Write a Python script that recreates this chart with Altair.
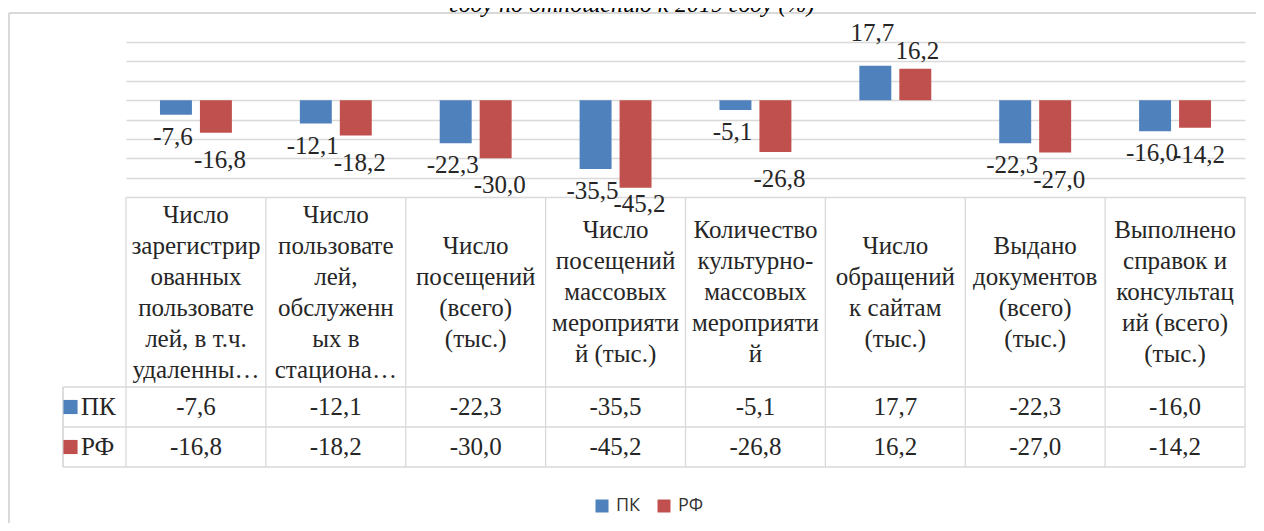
import altair as alt
import pandas as pd

# ---------------- data ----------------
categories = [
    "Число\nзарегистрир\nованных\nпользовате\nлей, в т.ч.\nудаленны…",
    "Число\nпользовате\nлей,\nобслуженн\nых в\nстациона…",
    "Число\nпосещений\n(всего)\n(тыс.)",
    "Число\nпосещений\nмассовых\nмероприяти\nй (тыс.)",
    "Количество\nкультурно-\nмассовых\nмероприяти\nй",
    "Число\nобращений\nк сайтам\n(тыс.)",
    "Выдано\nдокументов\n(всего)\n(тыс.)",
    "Выполнено\nсправок и\nконсультац\nий (всего)\n(тыс.)",
]
series = ["ПК", "РФ"]
pk_values = [-7.6, -12.1, -22.3, -35.5, -5.1, 17.7, -22.3, -16.0]
rf_values = [-16.8, -18.2, -30.0, -45.2, -26.8, 16.2, -27.0, -14.2]
grid_values = [30, 20, 10, 0, -10, -20, -30, -40, -50]
colors = ["#4F81BD", "#C0504D"]
title_text = "году по отношению к 2019 году (%)"

rows = []
for s, vals in zip(series, [pk_values, rf_values]):
    for c, v in zip(categories, vals):
        rows.append({"cat": c, "series": s, "value": v,
                     "label": f"{v:.1f}".replace(".", ",")})
df = pd.DataFrame(rows)
df_cat = pd.DataFrame({"cat": categories})
df_last = pd.DataFrame({"cat": categories[-1:]})
df_ser = pd.DataFrame({"series": series})
df_ser_last = pd.DataFrame({"series": series[-1:]})
df_one = pd.DataFrame({"title": [title_text]})

SERIF = "Liberation Serif"
TXT = "#262626"
LINE = "#D9D9D9"
FS = 25
LH = 31

# ---------------- scales ----------------
x_scale = alt.Scale(domain=categories, paddingInner=0, paddingOuter=0)
xo_scale = alt.Scale(domain=series, paddingInner=0.2, paddingOuter=0.85)
y_scale = alt.Scale(domain=[-50, 30], nice=False, zero=False)
color_scale = alt.Scale(domain=series, range=colors)
row_scale = alt.Scale(domain=series, range=[345, 425], paddingInner=0, paddingOuter=0)

X = alt.X("cat:N", scale=x_scale, sort=categories, axis=None)
XO = alt.XOffset("series:N", scale=xo_scale, sort=series)
Y = alt.Y("value:Q", scale=y_scale,
          axis=alt.Axis(values=grid_values, grid=True, gridColor=LINE, gridWidth=1.3,
                        labels=False, ticks=False, domain=False, title=None))
Y_noaxis = alt.Y("value:Q", scale=y_scale, axis=None)
ROW = alt.Y("series:N", scale=row_scale, sort=series, axis=None)

# ---------------- bars ----------------
bars = alt.Chart(df).mark_bar(opacity=1).encode(
    x=X, xOffset=XO, y=Y, y2=alt.datum(0),
    color=alt.Color("series:N", scale=color_scale, sort=series,
                    legend=alt.Legend(orient="none", legendX=467, legendY=455,
                                      direction="horizontal", title=None,
                                      symbolType="square", symbolSize=169,
                                      symbolStrokeWidth=0, symbolOpacity=1,
                                      labelFont="Open Sans", labelFontSize=18,
                                      labelColor="#333333", labelOffset=5,
                                      columnPadding=14, padding=0)),
)

lab_common = dict(font=SERIF, fontSize=FS, color=TXT, baseline="middle", align="center")


def bar_labels(s, sign, dx, dy):
    cond = f"datum.series == '{s}' && datum.value {'<' if sign < 0 else '>='} 0"
    return alt.Chart(df).transform_filter(cond).mark_text(dx=dx, dy=dy, **lab_common).encode(
        x=X, xOffset=XO, y=Y_noaxis, text="label:N")


# red negative labels sit ~14 units below the bar end, but not below the table's top edge
red_neg = alt.Chart(df).transform_filter(
    "datum.series == 'РФ' && datum.value < 0"
).transform_calculate(ly="max(datum.value - 14, -53.5)").mark_text(dx=4, **lab_common).encode(
    x=X, xOffset=XO, y=alt.Y("ly:Q", scale=y_scale, axis=None), text="label:N")

label_layers = [
    bar_labels("ПК", -1, -3, 22),
    red_neg,
    bar_labels("ПК", 1, -3, -33),
    bar_labels("РФ", 1, 2, -18),
]

# ---------------- table ----------------
v_lines = alt.Chart(df_cat).mark_rule(color=LINE, strokeWidth=1.3).encode(
    x=alt.X("cat:N", scale=x_scale, sort=categories, axis=None, bandPosition=0),
    y=alt.value(155), y2=alt.value(425))
v_last = alt.Chart(df_last).mark_rule(color=LINE, strokeWidth=1.3).encode(
    x=alt.X("cat:N", scale=x_scale, sort=categories, axis=None, bandPosition=1),
    y=alt.value(155), y2=alt.value(425))
v_left = alt.Chart(df_ser).mark_rule(color=LINE, strokeWidth=1.3).encode(
    x=alt.value(-63), y=alt.value(345), y2=alt.value(425))
h_lines = alt.Chart(df_ser).mark_rule(color=LINE, strokeWidth=1.3).encode(
    y=alt.Y("series:N", scale=row_scale, sort=series, axis=None, bandPosition=0),
    x=alt.value(-63), x2=alt.value(1119))
h_last = alt.Chart(df_ser_last).mark_rule(color=LINE, strokeWidth=1.3).encode(
    y=alt.Y("series:N", scale=row_scale, sort=series, axis=None, bandPosition=1),
    x=alt.value(-63), x2=alt.value(1119))


def header_layer(n):
    return alt.Chart(df_cat).transform_calculate(
        n="length(split(datum.cat, '\\n'))"
    ).transform_filter(f"datum.n == {n}").mark_text(
        lineBreak="\n", lineHeight=LH, dy=-(n - 1) * LH / 2, **lab_common
    ).encode(x=X, y=alt.value(250), text="cat:N")


header_layers = [header_layer(n) for n in (4, 5, 6)]

cells = alt.Chart(df).mark_text(**lab_common).encode(x=X, y=ROW, text="label:N")

row_names = alt.Chart(df_ser).mark_text(font=SERIF, fontSize=FS, color=TXT,
                                        baseline="middle", align="left").encode(
    x=alt.value(-45), y=ROW, text="series:N")
row_keys = alt.Chart(df_ser).mark_square(size=200, opacity=1).encode(
    x=alt.value(-55.5), y=ROW,
    color=alt.Color("series:N", scale=color_scale, sort=series, legend=None))

# ---------------- outer frame & (cut-off) title ----------------
frame_v = alt.Chart(df_one).mark_rule(color=LINE, strokeWidth=2).encode(
    x=alt.value(-117), y=alt.value(-29), y2=alt.value(500))
frame_h = alt.Chart(df_one).mark_rule(color=LINE, strokeWidth=2).encode(
    x=alt.value(-117), x2=alt.value(1200), y=alt.value(-29))
title = alt.Chart(df_one).mark_text(font=SERIF, fontSize=24, fontStyle="italic",
                                    color="#000000", align="center",
                                    baseline="alphabetic").encode(
    x=alt.value(506), y=alt.value(-30), text="title:N")

chart = alt.layer(
    frame_v, frame_h, title,
    bars, *label_layers,
    v_lines, v_last, v_left, h_lines, h_last,
    *header_layers, cells, row_names, row_keys,
).resolve_scale(y="independent").properties(
    width=1119, height=155,
    padding={"left": 118, "top": 34, "right": 11, "bottom": 326},
    autosize=alt.AutoSizeParams(type="none"),
    background="white",
).configure_view(strokeWidth=0)

chart.save("out.html", embed_options={"renderer": "svg", "actions": False})
